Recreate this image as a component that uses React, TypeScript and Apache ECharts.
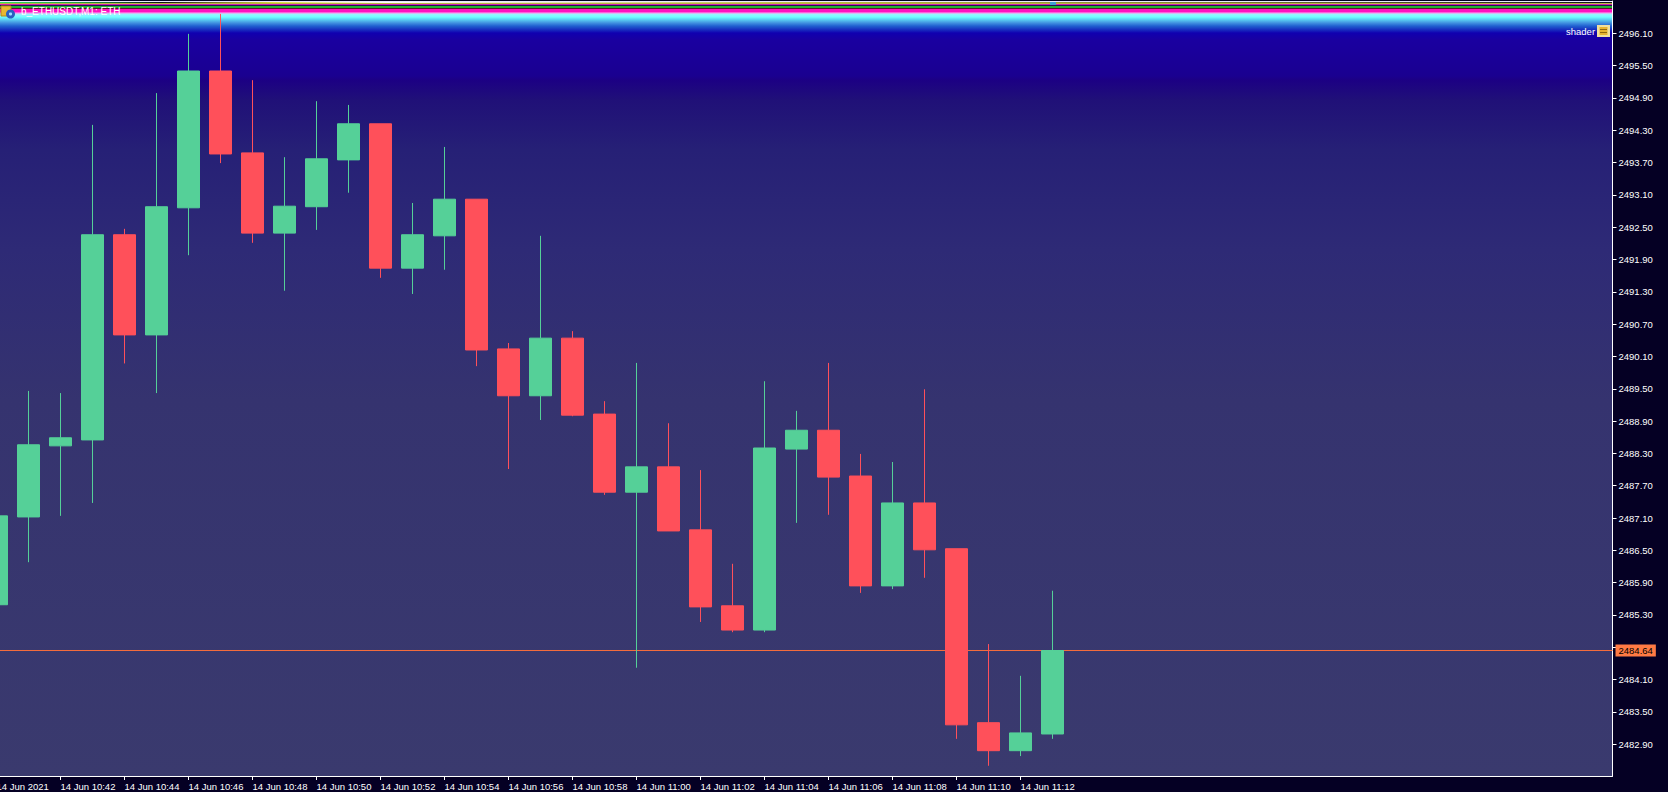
import React, { useEffect, useRef } from "react";
import * as echarts from "echarts";

const categories = [
  "14 Jun 2021", "14 Jun 10:41", "14 Jun 10:42", "14 Jun 10:43", "14 Jun 10:44", "14 Jun 10:45",
  "14 Jun 10:46", "14 Jun 10:47", "14 Jun 10:48", "14 Jun 10:49", "14 Jun 10:50", "14 Jun 10:51",
  "14 Jun 10:52", "14 Jun 10:53", "14 Jun 10:54", "14 Jun 10:55", "14 Jun 10:56", "14 Jun 10:57",
  "14 Jun 10:58", "14 Jun 10:59", "14 Jun 11:00", "14 Jun 11:01", "14 Jun 11:02", "14 Jun 11:03",
  "14 Jun 11:04", "14 Jun 11:05", "14 Jun 11:06", "14 Jun 11:07", "14 Jun 11:08", "14 Jun 11:09",
  "14 Jun 11:10", "14 Jun 11:11", "14 Jun 11:12", "14 Jun 11:13", "14 Jun 11:14", "14 Jun 11:15",
  "14 Jun 11:16", "14 Jun 11:17", "14 Jun 11:18", "14 Jun 11:19", "14 Jun 11:20", "14 Jun 11:21",
  "14 Jun 11:22", "14 Jun 11:23", "14 Jun 11:24", "14 Jun 11:25", "14 Jun 11:26", "14 Jun 11:27",
  "14 Jun 11:28", "14 Jun 11:29", "14 Jun 11:30",
];

// open, close, low, high
const candles = [
  [2485.49, 2487.14, 2485.49, 2487.14],
  [2487.12, 2488.46, 2486.28, 2489.46],
  [2488.44, 2488.59, 2487.14, 2489.42],
  [2488.55, 2492.36, 2487.38, 2494.40],
  [2492.36, 2490.50, 2489.97, 2492.47],
  [2490.50, 2492.88, 2489.42, 2494.99],
  [2492.86, 2495.40, 2491.98, 2496.09],
  [2495.40, 2493.86, 2493.69, 2496.46],
  [2493.88, 2492.39, 2492.21, 2495.23],
  [2492.39, 2492.89, 2491.32, 2493.80],
  [2492.88, 2493.77, 2492.45, 2494.84],
  [2493.75, 2494.42, 2493.14, 2494.77],
  [2494.42, 2491.74, 2491.56, 2494.42],
  [2491.74, 2492.36, 2491.26, 2492.95],
  [2492.34, 2493.02, 2491.71, 2493.99],
  [2493.02, 2490.22, 2489.92, 2493.02],
  [2490.24, 2489.37, 2488.01, 2490.35],
  [2489.37, 2490.44, 2488.92, 2492.34],
  [2490.44, 2489.01, 2488.99, 2490.57],
  [2489.03, 2487.58, 2487.53, 2489.27],
  [2487.58, 2488.05, 2484.32, 2489.98],
  [2488.05, 2486.86, 2486.86, 2488.86],
  [2486.88, 2485.45, 2485.17, 2487.99],
  [2485.47, 2485.02, 2484.98, 2486.25],
  [2485.02, 2488.40, 2484.98, 2489.64],
  [2488.38, 2488.73, 2487.01, 2489.09],
  [2488.73, 2487.86, 2487.16, 2489.98],
  [2487.88, 2485.84, 2485.71, 2488.29],
  [2485.84, 2487.38, 2485.78, 2488.14],
  [2487.38, 2486.51, 2485.99, 2489.49],
  [2486.53, 2483.26, 2483.00, 2486.53],
  [2483.30, 2482.78, 2482.50, 2484.76],
  [2482.78, 2483.11, 2482.68, 2484.17],
  [2483.09, 2484.64, 2483.00, 2485.75],
];

const priceTicks = [
  2496.1, 2495.5, 2494.9, 2494.3, 2493.7, 2493.1, 2492.5, 2491.9, 2491.3, 2490.7, 2490.1, 2489.5,
  2488.9, 2488.3, 2487.7, 2487.1, 2486.5, 2485.9, 2485.3, 2484.7, 2484.1, 2483.5, 2482.9,
];

const lastPrice = 2484.64;

const FONT = "'Liberation Sans', sans-serif";
const FONT_SIZE = 9.5;
const UP = "#55d098";
const DOWN = "#ff505a";
const ORANGE = "#f46c3c";
const TOP = 1;
const BOTTOM = 776;

const hardBands: [number, string][] = [
  [2, "#e8e8ff"], [3, "#101018"], [4, "#b8b840"], [5, "#d020b0"], [6, "#201050"],
  [8, "#20b030"], [9, "#601030"], [12, "#ff10c0"],
];
const softStops: [number, string][] = [
  [12, "#ff30d0"], [13, "#ff90e8"], [14, "#a0f0ff"], [17, "#70ffff"], [20, "#58c8f0"], [23, "#4090e0"],
  [26, "#2060d0"], [33, "#1000b0"], [40, "#1a00a0"], [76, "#1a0090"], [80, "#1c0084"],
  [100, "#201078"], [150, "#262076"], [250, "#2e2a76"], [400, "#35336f"], [776, "#3a3a6e"],
];

function gradientStops() {
  const h = BOTTOM - TOP;
  const out: { offset: number; color: string }[] = [];
  let prev = TOP;
  for (const [y, c] of hardBands) {
    out.push({ offset: (prev - TOP) / h, color: c }, { offset: (y - TOP) / h, color: c });
    prev = y;
  }
  for (const [y, c] of softStops) out.push({ offset: (y - TOP) / h, color: c });
  return out;
}

export default function App() {
  const ref = useRef<HTMLDivElement>(null);
  useEffect(() => {
    document.body.style.margin = "0";
    document.body.style.background = "#050024";
    const chart = echarts.init(ref.current!, undefined, { renderer: "svg" });
    chart.setOption({
      animation: false,
      backgroundColor: "#050024",
      grid: {
        show: true,
        left: -19.5,
        top: TOP,
        width: 1632,
        height: BOTTOM - TOP,
        borderWidth: 0,
        outerBoundsMode: "none",
        containLabel: false,
        backgroundColor: { type: "linear", x: 0, y: 0, x2: 0, y2: 1, colorStops: gradientStops() },
      },
      xAxis: {
        type: "category",
        data: categories,
        boundaryGap: true,
        axisLine: { show: true, lineStyle: { color: "#ffffff", width: 1 } },
        axisTick: {
          show: true,
          alignWithLabel: true,
          length: 4,
          interval: (i: number) => i % 2 === 0 && i <= 32 && i > 0,
          lineStyle: { color: "#ffffff", width: 1 },
        },
        axisLabel: {
          show: true,
          color: "#ffffff",
          fontFamily: FONT,
          fontSize: FONT_SIZE,
          align: "left",
          margin: 5,
          hideOverlap: false,
          showMinLabel: true,
          interval: (i: number) => i % 2 === 0 && i <= 32,
        },
        splitLine: { show: false },
      },
      yAxis: {
        type: "value",
        position: "right",
        min: 2482.31,
        max: 2496.7,
        axisLine: { show: true, onZero: false, lineStyle: { color: "#ffffff", width: 1 } },
        axisTick: { show: true, length: 4, customValues: priceTicks, lineStyle: { color: "#ffffff", width: 1 } },
        axisLabel: {
          show: true,
          customValues: priceTicks,
          color: "#ffffff",
          fontFamily: FONT,
          fontSize: FONT_SIZE,
          margin: 6,
          formatter: (v: number) => v.toFixed(2),
          hideOverlap: false,
          showMinLabel: true,
          showMaxLabel: true,
        },
        splitLine: { show: false },
      },
      series: [
        {
          type: "line",
          data: [],
          z: 1,
          silent: true,
          markLine: {
            z: 1,
            silent: true,
            symbol: "none",
            animation: false,
            lineStyle: { color: ORANGE, width: 1, type: "solid" },
            data: [{ yAxis: lastPrice }],
            label: {
              show: true,
              position: "end",
              distance: 3,
              formatter: () => lastPrice.toFixed(2),
              color: "#000000",
              fontFamily: FONT,
              fontSize: FONT_SIZE,
              backgroundColor: "#ff7a44",
              padding: [1, 3, 1, 3],
            },
          },
        },
        {
          type: "candlestick",
          data: candles,
          z: 2,
          barWidth: 23,
          itemStyle: { color: UP, color0: DOWN, borderColor: UP, borderColor0: DOWN, borderWidth: 1 },
        },
      ],
      graphic: [
        {
          type: "rect",
          shape: { x: 0, y: 2, width: 1613, height: 1 },
          style: {
            fill: {
              type: "linear", x: 0, y: 0, x2: 1, y2: 0,
              colorStops: [
                { offset: 0, color: "#30e060" }, { offset: 0.05, color: "#20a040" },
                { offset: 0.1, color: "#101010" }, { offset: 0.17, color: "#e0e040" },
                { offset: 0.24, color: "#ffffff" }, { offset: 0.5, color: "#c0c040" },
                { offset: 0.75, color: "#808030" }, { offset: 1, color: "#101018" },
              ],
            },
          },
        },
        { type: "rect", shape: { x: 1050, y: 2, width: 6, height: 3 }, style: { fill: "#40a0d0" } },
        { type: "rect", shape: { x: 1, y: 6, width: 10, height: 10 }, style: { fill: "#e8b830", stroke: "#b08818", lineWidth: 1 } },
        { type: "circle", shape: { cx: 10.5, cy: 14, r: 4.5 }, style: { fill: "#2a60c0" } },
        { type: "circle", shape: { cx: 10.5, cy: 14, r: 1.6 }, style: { fill: "#a0e0ff" } },
        { type: "text", x: 21, y: 11.5, style: { text: "b_ETHUSDT,M1: ETH", fill: "#ffffff", font: `10px ${FONT}`, textVerticalAlign: "middle" } },
        { type: "text", x: 1566, y: 31, style: { text: "shader", fill: "#ffffff", font: `${FONT_SIZE}px ${FONT}`, textVerticalAlign: "middle" } },
        { type: "rect", shape: { x: 1597, y: 25, width: 13, height: 12 }, style: { fill: "#f0e0a0" } },
        { type: "rect", shape: { x: 1599.5, y: 27, width: 8, height: 8 }, style: { fill: "#e8b430" } },
        { type: "rect", shape: { x: 1600, y: 29, width: 7, height: 1 }, style: { fill: "#906810" } },
        { type: "rect", shape: { x: 1600, y: 32, width: 7, height: 1 }, style: { fill: "#906810" } },
      ],
    });
    return () => chart.dispose();
  }, []);
  return <div ref={ref} style={{ position: "absolute", left: 0, top: 0, width: 1668, height: 792 }} />;
}
